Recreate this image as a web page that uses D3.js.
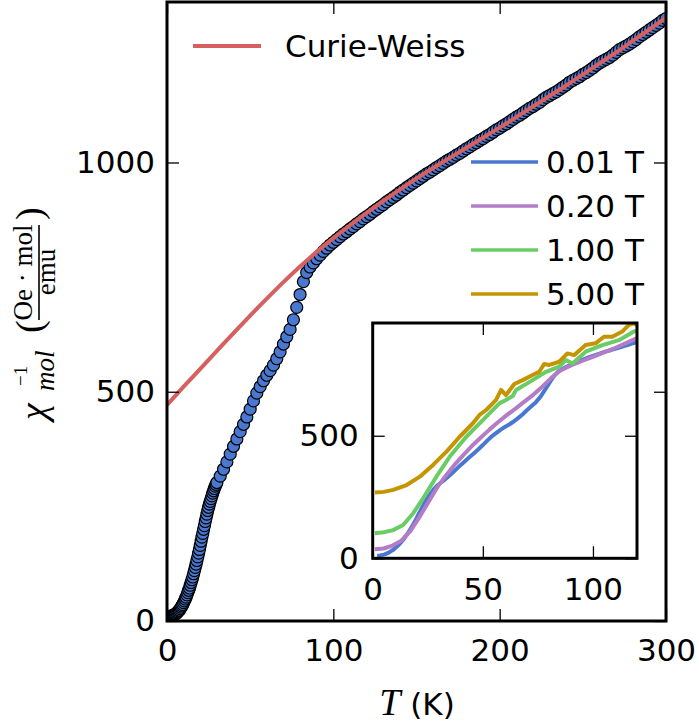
<!DOCTYPE html>
<html>
<head>
<meta charset="UTF-8">
<script src="https://d3js.org/d3.v7.min.js"></script>
<style>
  body { margin: 0; background: #fff; }
  svg { font-family: "DejaVu Sans", sans-serif; }
  .tick line { stroke: #000; stroke-width: 1.3; }
  .tick text { font-size: 31px; fill: #000; }
  .math { font-family: "Liberation Serif", serif; }
</style>
</head>
<body>
<svg id="chart" width="699" height="723"></svg>
<script>
// main panel: inverse susceptibility at 0.01 T
const tempMain = [
  2, 2.5, 3, 3.5, 4, 4.5, 5, 5.5, 6, 6.5, 7, 7.5, 8, 8.5, 9, 9.5, 10, 10.5, 11, 11.5,
  12, 12.5, 13, 13.5, 14, 14.5, 15, 15.5, 16, 16.5, 17, 17.5, 18, 18.5, 19, 19.5,
  20, 20.5, 21, 21.5, 22, 22.5, 23, 23.5, 24, 24.5, 25, 25.5, 26, 26.5, 27, 27.5,
  28, 28.5, 29, 29.5,
  30, 32, 34, 36, 38, 40, 42, 44, 46, 48, 50, 52, 54, 56, 58, 60, 62, 64, 66, 68,
  70, 72, 74, 76, 78, 80, 82, 84, 86, 88, 90, 92, 94, 96, 98, 100, 102, 104, 106, 108,
  110, 112, 114, 116, 118, 120, 122, 124, 126, 128, 130, 132, 134, 136, 138, 140,
  142, 144, 146, 148, 150, 152, 154, 156, 158, 160, 162, 164, 166, 168, 170, 172,
  174, 176, 178, 180, 182, 184, 186, 188, 190, 192, 194, 196, 198, 200, 202, 204,
  206, 208, 210, 212, 214, 216, 218, 220, 222, 224, 226, 228, 230, 232, 234, 236,
  238, 240, 242, 244, 246, 248, 250, 252, 254, 256, 258, 260, 262, 264, 266, 268,
  270, 272, 274, 276, 278, 280, 282, 284, 286, 288, 290, 292, 294, 296, 298, 300
];
const chiMain = [
  10, 10, 11, 12, 13, 14, 15, 16, 18, 20, 22, 24, 27, 30, 33, 36, 40, 44, 48, 52,
  57, 62, 67, 72, 78, 84, 90, 96, 103, 110, 117, 124, 132, 140, 148, 156,
  165, 174, 183, 191, 200, 208, 217, 225, 233, 241, 248, 255, 261, 267, 273, 279,
  284, 289, 294, 298,
  302, 316, 331, 347, 364, 381, 397, 413, 429, 445, 462, 480, 497, 511, 524, 536, 546, 558, 572, 587,
  604, 620, 636, 657, 684, 712, 740, 760, 772, 781, 790, 798, 806, 813, 820, 826, 832, 838, 844, 849,
  855, 860, 866, 871, 877, 882, 887, 893, 898, 903, 908, 914, 919, 924, 929, 935,
  940, 945, 950, 955, 960, 965, 970, 975, 979, 984, 989, 993, 998, 1003, 1007, 1011,
  1016, 1020, 1025, 1030, 1034, 1039, 1043, 1048, 1052, 1057, 1061, 1066, 1071, 1075, 1080, 1084,
  1089, 1094, 1099, 1103, 1108, 1113, 1118, 1122, 1127, 1131, 1137, 1142, 1146, 1150, 1154, 1159,
  1164, 1169, 1175, 1179, 1183, 1187, 1192, 1196, 1201, 1206, 1212, 1217, 1221, 1225, 1229, 1234,
  1240, 1246, 1250, 1254, 1258, 1263, 1268, 1274, 1279, 1284, 1289, 1294, 1299, 1304, 1310, 1314
];

// Curie-Weiss fit
const tempCW = [0, 10, 20, 30, 40, 50, 60, 70, 80, 90, 100, 110, 120, 130, 140, 150,
  160, 170, 180, 190, 200, 210, 220, 230, 240, 250, 260, 270, 280, 290, 300];
const chiCW = [471, 511, 550, 589, 628, 666, 703, 739, 773, 805, 835, 863, 890, 916, 941, 965,
  988, 1010, 1032, 1054, 1076, 1099, 1122, 1145, 1168, 1192, 1216, 1240, 1265, 1290, 1316];

// inset: other fields
const temp020 = [1, 5, 9, 13, 17, 21, 25, 29, 33, 37, 41, 45, 49, 53, 57, 61, 65, 69, 73, 77,
  81, 85, 90, 95, 100, 105, 110, 115, 120];
const chi020 = [37, 40, 52, 72, 110, 165, 225, 285, 335, 380, 420, 458, 492, 525, 556, 585, 612, 640, 668, 700,
  735, 765, 787, 805, 822, 840, 858, 878, 898];

const temp100 = [1, 5, 9.3, 13.8, 18.4, 22.9, 28.9, 35, 42.5, 50, 57.5, 60.5, 63.6, 65.1, 72.6, 78.7,
  84.7, 87.7, 90.7, 96.7, 104.3, 111.8, 118.6, 120];
const chi100 = [102, 106, 115, 136, 184, 245, 333, 415, 496, 564, 632, 646, 662, 687, 727, 761,
  782, 809, 795, 843, 870, 890, 925, 930];

const temp500 = [1, 5, 9.3, 15.4, 21.4, 27.4, 33.5, 39.5, 45.5, 48.5, 51.5, 54.5, 56, 58.3, 60.5, 64.3,
  68.1, 72.6, 75.6, 77.9, 80.2, 84.7, 88.4, 91.5, 96.7, 101.2, 105, 108.8, 113.3, 116.3, 118.6, 120];
const chi500 = [268, 271, 279, 299, 333, 381, 435, 496, 551, 585, 605, 632, 646, 687, 666, 711,
  727, 748, 761, 793, 789, 802, 836, 829, 870, 877, 904, 904, 925, 952, 959, 950];

const fieldLabels = ["0.01 T", "0.20 T", "1.00 T", "5.00 T"];
const fieldColors = ["#4878CF", "#B47CC7", "#6ACC65", "#C49500"];
const cwColor = "#D65F5F";

const svg = d3.select("#chart");

// scales
const x = d3.scaleLinear().domain([0, 300]).range([167, 666]);
const y = d3.scaleLinear().domain([0, 1350]).range([621, 2]);
const xi = d3.scaleLinear().domain([0, 120]).range([372.7, 637]);
const yi = d3.scaleLinear().domain([0, 960]).range([558.3, 323]);

function clip(id, xs, ys) {
  const [x0, x1] = xs.range(), [y0, y1] = ys.range();
  svg.append("clipPath").attr("id", id)
    .append("rect").attr("x", x0).attr("y", y1).attr("width", x1 - x0).attr("height", y0 - y1);
}
clip("clipMain", x, y);
clip("clipInset", xi, yi);

function drawAxes(xs, ys, xTicks, yTicks, xPad, yPad) {
  const [x0, x1] = xs.range(), [y0, y1] = ys.range();
  const g = svg.append("g");
  g.append("g").attr("transform", `translate(0,${y0})`)
    .call(d3.axisBottom(xs).tickValues(xTicks).tickSize(-12).tickPadding(xPad).tickFormat(d3.format("d")));
  g.append("g").attr("transform", `translate(0,${y1})`)
    .call(d3.axisTop(xs).tickValues(xTicks).tickSize(-12).tickFormat(""));
  g.append("g").attr("transform", `translate(${x0},0)`)
    .call(d3.axisLeft(ys).tickValues(yTicks).tickSize(-12).tickPadding(yPad).tickFormat(d3.format("d")));
  g.append("g").attr("transform", `translate(${x1},0)`)
    .call(d3.axisRight(ys).tickValues(yTicks).tickSize(-12).tickFormat(""));
  g.selectAll(".domain").remove();
  g.selectAll(".tick text").attr("font-family", "DejaVu Sans").attr("font-size", 31);
  svg.append("rect")
    .attr("x", x0).attr("y", y1).attr("width", x1 - x0).attr("height", y0 - y1)
    .attr("fill", "none").attr("stroke", "#000").attr("stroke-width", 3);
}

// main data
const mainPts = tempMain.map((t, i) => [t, chiMain[i]]);
const gMain = svg.append("g").attr("clip-path", "url(#clipMain)");

gMain.append("path")
  .datum(mainPts)
  .attr("d", d3.line().x(d => x(d[0])).y(d => y(d[1])))
  .attr("fill", "none").attr("stroke", fieldColors[0]).attr("stroke-width", 1.5);

gMain.selectAll("circle")
  .data(mainPts)
  .enter().append("circle")
  .attr("cx", d => x(d[0]))
  .attr("cy", d => y(d[1]))
  .attr("r", 6)
  .attr("fill", fieldColors[0])
  .attr("stroke", "#000")
  .attr("stroke-width", 1.2);

gMain.append("path")
  .datum(tempCW.map((t, i) => [t, chiCW[i]]))
  .attr("d", d3.line().curve(d3.curveMonotoneX).x(d => x(d[0])).y(d => y(d[1])))
  .attr("fill", "none").attr("stroke", cwColor).attr("stroke-width", 4);

drawAxes(x, y, [0, 100, 200, 300], [0, 500, 1000], 18, 12);

// Curie-Weiss legend
svg.append("line").attr("x1", 193).attr("x2", 261).attr("y1", 46).attr("y2", 46)
  .attr("stroke", cwColor).attr("stroke-width", 4);
svg.append("text").attr("x", 285).attr("y", 57).attr("font-size", 31).text("Curie-Weiss");

// field legend
const legY = [162, 206, 250, 294];
fieldLabels.forEach((lab, i) => {
  svg.append("line").attr("x1", 471).attr("x2", 538).attr("y1", legY[i]).attr("y2", legY[i])
    .attr("stroke", fieldColors[i]).attr("stroke-width", 3.5);
  svg.append("text").attr("x", 546).attr("y", legY[i] + 11).attr("font-size", 31).text(lab);
});

// inset
svg.append("rect")
  .attr("x", xi.range()[0]).attr("y", yi.range()[1])
  .attr("width", xi.range()[1] - xi.range()[0]).attr("height", yi.range()[0] - yi.range()[1])
  .attr("fill", "#fff");

const insetSeries = [
  [tempMain.filter(t => t <= 122), chiMain],
  [temp020, chi020],
  [temp100, chi100],
  [temp500, chi500]
];
const gInset = svg.append("g").attr("clip-path", "url(#clipInset)");
const insetLine = d3.line().x(d => xi(d[0])).y(d => yi(d[1]));
insetSeries.forEach(([ts, cs], i) => {
  gInset.append("path")
    .datum(ts.map((t, j) => [t, cs[j]]))
    .attr("d", insetLine)
    .attr("fill", "none").attr("stroke", fieldColors[i]).attr("stroke-width", 4)
    .attr("stroke-linejoin", "round");
});

drawAxes(xi, yi, [0, 50, 100], [0, 500], 19.5, 14);

// axis labels
const xl = svg.append("text").attr("x", 417).attr("y", 715).attr("text-anchor", "middle").attr("font-size", 31);
xl.append("tspan").attr("class", "math").attr("font-style", "italic").attr("font-size", 38).text("T");
xl.append("tspan").text(" (K)");

const yl = svg.append("g").attr("transform", "translate(46,312) rotate(-90)");
yl.append("text").attr("class", "math").attr("font-style", "italic").attr("font-size", 38)
  .attr("x", -108).attr("y", 0).text("χ");
yl.append("text").attr("class", "math").attr("font-size", 19)
  .attr("x", -74).attr("y", -19).text("−1");
yl.append("text").attr("class", "math").attr("font-style", "italic").attr("font-size", 27)
  .attr("x", -79).attr("y", 8).text("mol");
yl.append("text").attr("class", "math").attr("font-size", 38)
  .attr("x", -21).attr("y", -4).text("(");
yl.append("text").attr("class", "math").attr("font-size", 38)
  .attr("x", 92).attr("y", -4).text(")");
yl.append("line").attr("x1", -8).attr("x2", 87).attr("y1", -7).attr("y2", -7)
  .attr("stroke", "#000").attr("stroke-width", 1.6);
yl.append("text").attr("class", "math").attr("font-size", 27).attr("text-anchor", "middle")
  .attr("x", 39.5).attr("y", -14).text("Oe · mol");
yl.append("text").attr("class", "math").attr("font-size", 27).attr("text-anchor", "middle")
  .attr("x", 40).attr("y", 9).text("emu");
</script>
</body>
</html>
